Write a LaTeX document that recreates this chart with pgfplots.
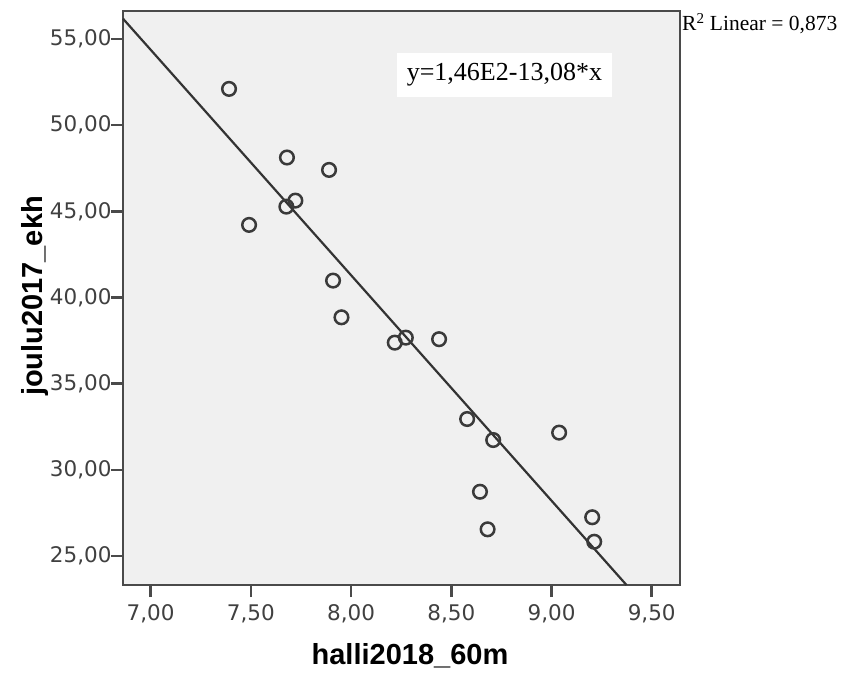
\documentclass[border=0pt]{standalone}
\usepackage{pgfplots}
\pgfplotsset{compat=1.18}
\usepackage{fontspec}
\setmainfont{Liberation Sans}
\newfontfamily\ticksfont{DejaVu Sans}
\newfontfamily\seriffont{Liberation Serif}

\definecolor{plotbg}{HTML}{F0F0F0}
\definecolor{framec}{HTML}{4A4A4A}
\definecolor{tickc}{HTML}{404040}
\definecolor{markc}{HTML}{3A3A3A}
\definecolor{fitc}{HTML}{333333}

\begin{document}
\begin{tikzpicture}
% page frame
\path (0,0) rectangle (850bp,674bp);
\begin{axis}[
  at={(123bp,89bp)}, anchor=south west,
  width=557bp, height=574bp, scale only axis,
  xmin=6.862, xmax=9.641, ymin=23.32, ymax=56.62,
  axis background/.style={fill=plotbg},
  axis line style={draw=framec, line width=2.5bp},
  xtick={7,7.5,8,8.5,9,9.5},
  ytick={25,30,35,40,45,50,55},
  xtick pos=left, ytick pos=left,
  tick align=outside, major tick length=12bp,
  tick style={draw=framec, line width=2.5bp},
  ticklabel style={font=\ticksfont\fontsize{21.5bp}{25bp}\selectfont, text=tickc},
  yticklabel style={xshift=4bp},
  xticklabel style={yshift=-4bp},
  /pgf/number format/fixed,
  /pgf/number format/fixed zerofill,
  /pgf/number format/precision=2,
  /pgf/number format/use comma,
  /pgf/number format/assume math mode=true,
  clip=false,
]
% least-squares fit line
\addplot[color=fitc, line width=2.2bp] coordinates {(6.862,56.175) (9.374,23.32)};
% observations
\addplot[only marks, mark=o, mark size=6.8bp,
  mark options={draw=markc, line width=2.5bp}] coordinates {
  (7.391,52.10) (7.491,44.21) (7.680,48.12) (7.677,45.27) (7.722,45.62)
  (7.890,47.40) (7.910,40.98) (7.952,38.85) (8.218,37.38) (8.273,37.67)
  (8.439,37.58) (8.579,32.95) (8.709,31.73) (8.643,28.73) (8.681,26.55)
  (9.038,32.16) (9.203,27.25) (9.213,25.83)
};
\node[fill=white, inner sep=0pt, minimum width=215bp, minimum height=44bp,
  font=\seriffont\fontsize{26bp}{30bp}\selectfont]
  at (axis cs:8.765,52.92) {y=1,46E2-13,08*x};
\end{axis}
\node[anchor=base west, inner sep=0pt, font=\seriffont\fontsize{21.5bp}{25bp}\selectfont]
  at (682bp,643bp) {R\textsuperscript{2} Linear = 0,873};
\node[anchor=base, inner sep=0pt, font=\bfseries\fontsize{29bp}{34bp}\selectfont]
  at (410bp,10bp) {halli2018\_60m};
\node[anchor=base, rotate=90, inner sep=0pt, font=\bfseries\fontsize{29bp}{34bp}\selectfont]
  at (42bp,378bp) {joulu2017\_ekh};
\end{tikzpicture}
\end{document}
